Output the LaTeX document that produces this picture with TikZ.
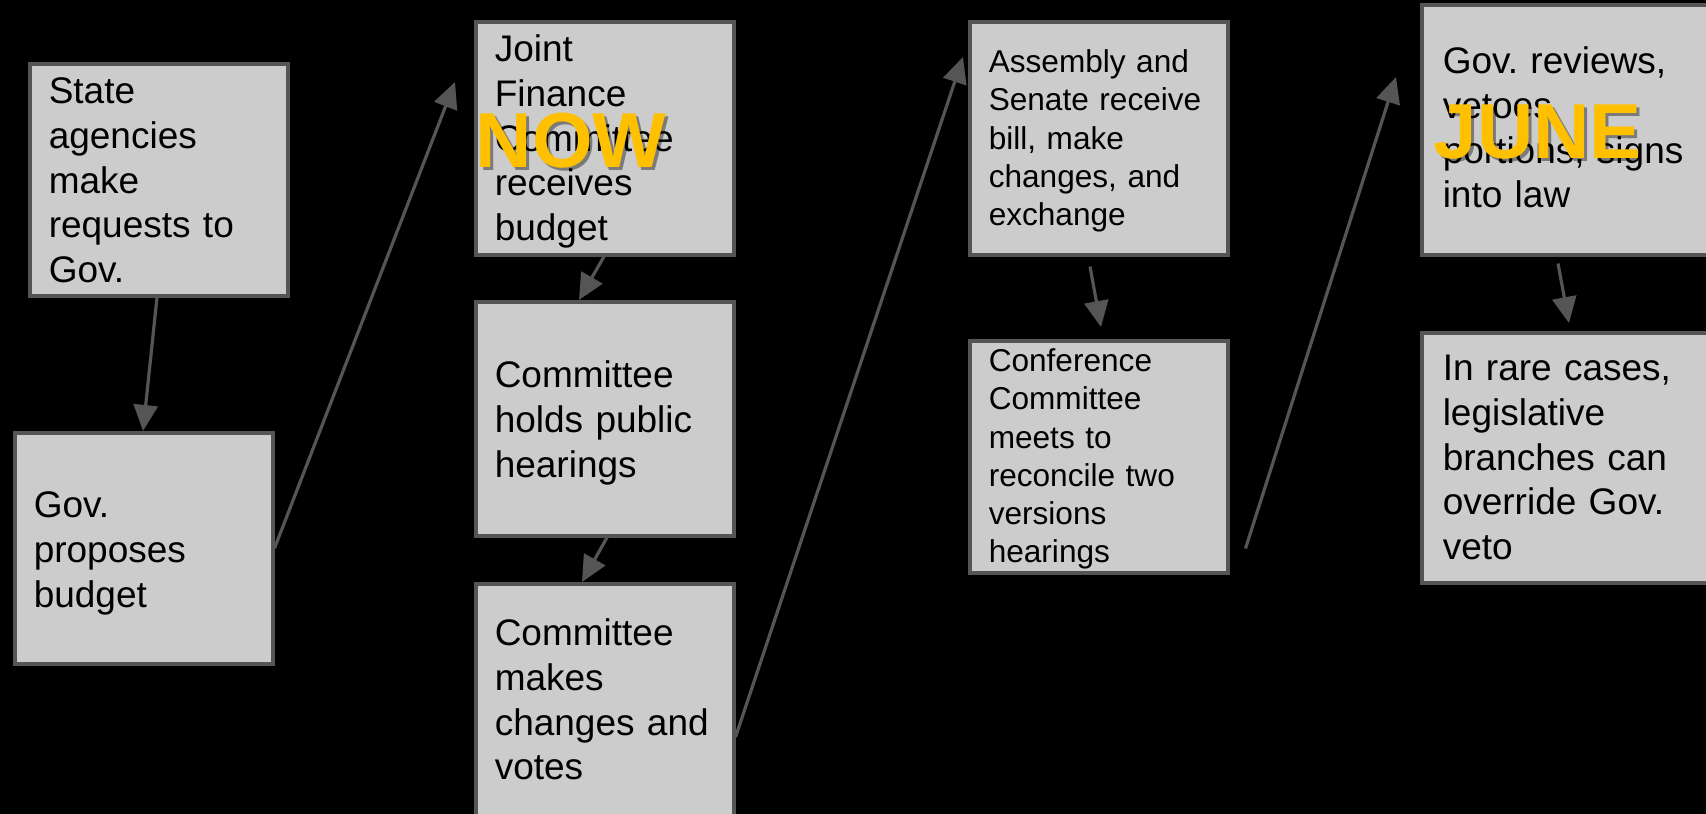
\documentclass[tikz,border=0pt]{standalone}
\usepackage{fontspec}
\setmainfont{Liberation Sans}
\usetikzlibrary{arrows.meta}
\definecolor{card}{HTML}{CCCCCC}
\definecolor{edge}{HTML}{555555}
\definecolor{gold}{HTML}{FFC000}
\newcommand\cardfont{\frenchspacing\fontsize{37}{44.7}\selectfont}
\newcommand\cardsmall{\frenchspacing\fontsize{31.6}{38.2}\selectfont}
\newcommand\bannerfont{\fontsize{78}{80}\selectfont\bfseries}
\tikzset{
	stage/.style={draw=edge, fill=card, line width=3.5pt, anchor=north west,
		inner xsep=19pt, inner ysep=0pt, align=left, text width=220pt, font=\cardfont},
	wide stage/.style={stage, inner xsep=21pt, text width=268pt},
	flow/.style={draw=edge, line width=3.2pt, -{Triangle[length=26pt,width=24pt]}},
	banner/.style={text=gold, font=\bannerfont, inner sep=0pt, anchor=base},
	banner shadow/.style={banner, text=black, opacity=0.4}
}
\begin{document}
\begin{tikzpicture}[x=1pt,y=-1pt]
	\useasboundingbox (0,0) rectangle (1706,814);
	\fill[black] (0,0) rectangle (1706,814);
	\clip (0,0) rectangle (1706,814);
	\node[stage, text height=40pt, text depth=192pt] (agencies) at (28,62) {State\\agencies\\make\\requests to\\Gov.};
	\node[stage, text height=85pt, text depth=146pt] (proposes) at (13,431) {Gov.\\proposes\\budget};
	\node[stage, text height=40pt, text depth=193pt] (joint) at (474,20) {Joint\\Finance\\Committee\\receives\\budget};
	\node[stage, text height=86pt, text depth=148pt] (hearings) at (474,300) {Committee\\holds public\\hearings};
	\node[stage, text height=62pt, text depth=206pt] (votes) at (474,582) {Committee\\makes\\changes and\\votes};
	\node[stage, font=\cardsmall, text height=51pt, text depth=182pt] (assembly) at (968,20) {Assembly and\\Senate receive\\bill, make\\changes, and\\exchange};
	\node[stage, font=\cardsmall, text height=31pt, text depth=201pt] (conference) at (968,339) {Conference\\Committee\\meets to\\reconcile two\\versions\\hearings};
	\node[wide stage, text height=69pt, text depth=181pt] (reviews) at (1420,3) {Gov. reviews,\\vetoes\\portions, signs\\into law};
	\node[wide stage, text height=48pt, text depth=202pt] (override) at (1420,331) {In rare cases,\\legislative\\branches can\\override Gov.\\veto};
	\coordinate (loose) at ([xshift=16pt,yshift=26pt]conference.south east);
	\draw[flow] ([xshift=129pt]agencies.south west) -- ([xshift=130pt]proposes.north west);
	\draw[flow] (proposes.east) -- ([xshift=-19pt,yshift=-62pt]joint.north west);
	\draw[flow] ([xshift=130pt]joint.south west) -- ([xshift=105pt]hearings.north west);
	\draw[flow] ([xshift=133pt]hearings.south west) -- ([xshift=108pt]votes.north west);
	\draw[flow] ([yshift=-155pt]votes.north east) -- ([xshift=-5pt,yshift=-37pt]assembly.north west);
	\draw[flow] ([xshift=122pt,yshift=-10pt]assembly.south west) -- ([xshift=133pt,yshift=12pt]conference.north west);
	\draw[flow] (loose) -- ([xshift=-24pt,yshift=-74pt]reviews.north west);
	\draw[flow] ([xshift=138pt,yshift=-7pt]reviews.south west) -- ([xshift=149pt,yshift=8pt]override.north west);
	\node[banner shadow] (nowshade) at (574,170) {NOW};
	\node[banner] (now) at (571,167) {NOW};
	\node[banner shadow] (juneshade) at (1541,161) {JUNE};
	\node[banner] (june) at (1538,158) {JUNE};
\end{tikzpicture}
\end{document}
